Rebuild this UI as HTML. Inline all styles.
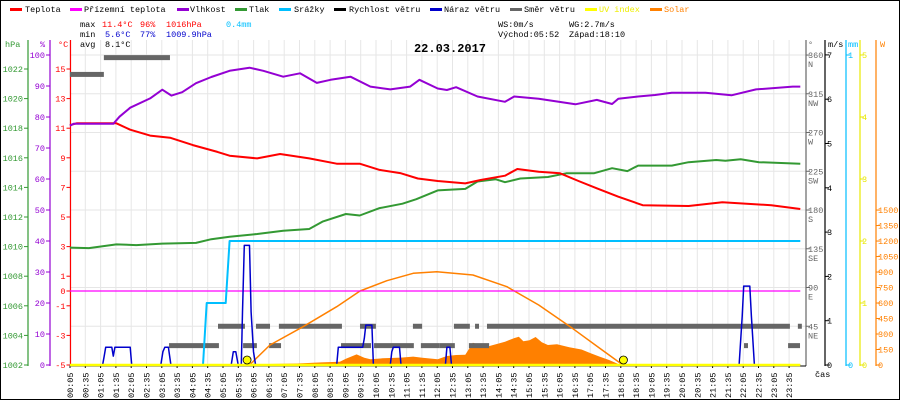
<!DOCTYPE html>
<html><head><meta charset="utf-8"><style>
html,body{margin:0;padding:0;background:#fff}
svg{display:block;font-family:"Liberation Mono",monospace}
</style></head><body>
<svg id="c" width="900" height="400" viewBox="0 0 900 400" xmlns="http://www.w3.org/2000/svg">
<rect x="0.5" y="0.5" width="899" height="399" fill="#fff" stroke="#000"/>
<g id="grid"></g>
<g id="legend" font-size="8.5">
<rect x="10" y="8" width="12" height="3" fill="#f00"/><text x="25" y="12">Teplota</text>
<rect x="70" y="8" width="12" height="3" fill="#f0f"/><text x="84" y="12">Přízemní teplota</text>
<rect x="177" y="8" width="12" height="3" fill="#9400d3"/><text x="190" y="12">Vlhkost</text>
<rect x="235" y="8" width="12" height="3" fill="#339933"/><text x="249" y="12">Tlak</text>
<rect x="279" y="8" width="12" height="3" fill="#00bfff"/><text x="294" y="12">Srážky</text>
<rect x="334" y="8" width="12" height="3" fill="#000"/><text x="349" y="12">Rychlost větru</text>
<rect x="430" y="8" width="12" height="3" fill="#0000cc"/><text x="444" y="12">Náraz větru</text>
<rect x="510" y="8" width="12" height="3" fill="#666"/><text x="524" y="12">Směr větru</text>
<rect x="585" y="8" width="12" height="3" fill="#ff0"/><text x="599" y="12" fill="#ee0">UV index</text>
<rect x="650" y="8" width="12" height="3" fill="#ff8000"/><text x="664" y="12" fill="#ff8000">Solar</text>
</g>
<g font-size="8.5">
<text x="80" y="27">max</text><text x="102" y="27" fill="#f00">11.4°C</text><text x="140" y="27" fill="#f00">96%</text><text x="166" y="27" fill="#f00">1016hPa</text><text x="226" y="27" fill="#00bfff">0.4mm</text>
<text x="80" y="37">min</text><text x="105" y="37" fill="#00c">5.6°C</text><text x="140" y="37" fill="#00c">77%</text><text x="166" y="37" fill="#00c">1009.9hPa</text>
<text x="80" y="47">avg</text><text x="105" y="47">8.1°C</text>
<text x="498" y="27">WS:0m/s</text><text x="569" y="27">WG:2.7m/s</text>
<text x="498" y="37">Východ:05:52</text><text x="569" y="37">Západ:18:10</text>
</g>
<text x="450" y="52" text-anchor="middle" font-size="12" font-weight="bold">22.03.2017</text>
<g id="axes" font-size="8.5"></g>
<g id="series"></g>
</svg>
<script>
// ---- data ----
const tT=[0.08,0.3,1.6,2.05,2.7,3.35,4.1,4.9,5.3,6.2,6.95,7.9,8.8,9.55,10.2,10.9,11.45,12.1,13.0,13.5,14.3,14.7,15.4,16.1,16.7,17.3,18.0,18.8,20.3,21.4,23.0,23.95];
const vT=[11.2,11.33,11.33,10.9,10.5,10.36,9.86,9.4,9.14,8.96,9.26,8.96,8.6,8.6,8.18,7.95,7.6,7.43,7.27,7.5,7.79,8.24,8.06,7.95,7.43,6.94,6.37,5.8,5.74,6.0,5.8,5.54];
const tH=[0.08,0.2,1.5,1.7,2.05,2.7,3.1,3.4,3.75,4.2,4.7,5.3,5.95,6.4,7.05,7.6,8.15,8.6,9.25,9.9,10.55,11.2,11.5,12.1,12.4,12.7,13.4,14.3,14.6,15.4,16.6,17.3,17.8,18.0,18.65,19.2,19.75,20.85,21.7,22.5,23.7,23.95];
const vH=[77.2,77.8,77.8,80.1,83,86,88.8,86.9,88,90.9,92.9,94.9,95.9,94.9,93,94.1,91,92,93,89.8,88.9,89.8,92,89.2,88.7,89.6,86.6,84.9,86.6,85.9,84.1,85.5,84.2,85.9,86.6,87.1,87.8,87.8,87,88.9,89.8,89.8];
const tP=[0.08,0.7,1.6,2.25,3.1,4.2,4.7,5.3,6.2,7.05,7.9,8.35,9.1,9.55,10.2,10.95,11.4,12.1,13.0,13.4,14.0,14.3,14.8,15.7,16.3,17.2,17.8,18.3,18.65,19.75,20.3,21.2,21.5,22.0,22.6,23.95];
const vP=[1009.93,1009.9,1010.15,1010.1,1010.2,1010.25,1010.5,1010.67,1010.85,1011.07,1011.19,1011.7,1012.2,1012.1,1012.6,1012.9,1013.2,1013.8,1013.9,1014.4,1014.55,1014.35,1014.6,1014.7,1014.95,1014.95,1015.3,1015.1,1015.47,1015.47,1015.7,1015.85,1015.8,1015.9,1015.7,1015.6];
const tGround=[0.08,23.95];
const vGround=[0,0];
const tR=[0.08,4.43,4.55,5.17,5.3,23.95];
const vR=[0,0,0.2,0.2,0.4,0.4];
const tG=[0.08,1.15,1.2,1.25,1.45,1.5,1.55,2.05,2.1,3.05,3.12,3.18,3.3,3.38,5.35,5.42,5.5,5.58,5.68,5.72,5.78,5.95,6.0,6.08,6.15,8.8,8.85,9.65,9.7,9.75,9.95,10.0,10.55,10.6,10.65,10.85,10.9,12.35,12.4,12.5,12.55,21.95,22.05,22.1,22.3,22.35,22.45,23.95];
const vG=[0,0,0.2,0.4,0.4,0.2,0.4,0.4,0,0,0.3,0.4,0.4,0,0,0.3,0.3,0,0,1.2,2.7,2.7,1.2,0.3,0,0,0.4,0.4,0.6,0.9,0.9,0,0,0.3,0.4,0.4,0,0,0.4,0.4,0,0,1.1,1.78,1.78,1.1,0,0];
const dirStart=[0.08,1.19,3.32,5.74,6.59,8.94,10.02,11.55,12.17,13.12,22.11,23.55,4.92,6.16,6.91,9.56,11.29,12.63,13.32,13.71,23.87];
const dirEnd=[1.19,3.35,4.95,6.19,6.98,9.92,11.32,12.17,12.66,13.78,22.24,23.94,5.8,6.62,8.97,10.08,11.59,13.15,13.45,23.61,24.0];
const dirDeg=[337.5,357,22.5,22.5,22.5,22.5,22.5,22.5,22.5,22.5,22.5,22.5,45,45,45,45,45,45,45,45,45];
const tS=[6.5,6.6,7.5,8.3,8.9,9.1,9.45,9.7,9.9,10.3,10.9,11.3,11.6,12.1,12.4,12.7,13.0,13.25,13.5,13.7,14.0,14.3,14.6,14.75,14.9,15.1,15.3,15.5,15.7,16.0,16.4,16.8,17.1,17.4,17.7,18.0,18.1];
const vS=[0,10,15,25,32,60,103,70,55,65,72,81,70,55,87,97,100,216,190,177,200,226,260,274,230,240,271,220,194,200,171,150,113,80,48,10,0];
const tC=[5.95,6.62,7.7,8.8,9.56,10.44,11.3,12.07,13.25,14.36,15.4,16.5,17.4,18.06,18.17];
const vC=[0,194,371,564,716,816,888,903,871,758,581,355,161,19,0];
const tUV=[0.08,23.95];
const vUV=[0,0];
const sunTimes=[5.87,18.17];
const tempTicks=[15,13,11,9,7,5,3,1,0,-1,-3,-5];
const humTicks=[0,10,20,30,40,50,60,70,80,90,100];
const presTicks=[1002,1004,1006,1008,1010,1012,1014,1016,1018,1020,1022];
const dirTicks=[45,90,135,180,225,270,315,360];
const dirNames=["NE","E","SE","S","SW","W","NW","N"];
const msTicks=[0,1,2,3,4,5,6,7];
const mmTicks=[0,1];
const uvTicks=[0,1,2,3,4,5];
const wTicks=[0,150,300,450,600,750,900,1050,1200,1350,1500];
const timeLabels=[];for(let h=0;h<24;h++){const hh=(h<10?'0':'')+h;timeLabels.push(hh+':05');timeLabels.push(hh+':35');}

// ---- scales ----
const X=t=>70+(t-1/12)*30.6;
const Y0=365;
const yT=v=>Y0-(v+5)*14.8;
const yH=v=>Y0-v*3.1;
const yP=v=>Y0-(v-1002)*14.8;
const yD=v=>Y0-v*0.861;
const yM=v=>Y0-v*44.3;
const yR=v=>Y0-v*310;
const yU=v=>Y0-v*62;
const yW=v=>Y0-v*0.1033;
const NS='http://www.w3.org/2000/svg';
function mk(tag,attrs,parent){const e=document.createElementNS(NS,tag);for(const k in attrs)e.setAttribute(k,attrs[k]);parent.appendChild(e);return e;}
const grid=document.getElementById('grid'),axes=document.getElementById('axes'),ser=document.getElementById('series');

// grid
timeLabels.forEach((lab,i)=>{const x=X(1/12+i*0.5);
 const l=mk('line',{x1:x,y1:40,x2:x,y2:365,stroke:'#e6e6e6'},grid);
 
 
 mk('line',{x1:x,y1:365,x2:x,y2:368,stroke:'#000'},axes);
 const t=mk('text',{x:0,y:0,transform:`translate(${x+3},398) rotate(-90)`,'font-size':'8.5'},axes);t.textContent=lab;
 
 
});
dirTicks.forEach(d=>{const y=yD(d);const l=mk('line',{x1:70,y1:y,x2:806,y2:y,stroke:'#e6e6e6'},grid);
 
 });

// axes helper
function axis(x,col,ticks,fy,side,hdr,hx,name,extra){
 const g=mk('g',{},axes);
 
 
 mk('line',{x1:x,y1:40,x2:x,y2:366,stroke:col,'stroke-width':1.2},g);
 if(hdr){const h=mk('text',{x:hx,y:47,fill:col},g);h.textContent=hdr;}
 ticks.forEach((v,i)=>{const y=fy(v);
  if(side<0){mk('line',{x1:x-4,y1:y,x2:x,y2:y,stroke:col},g);const t=mk('text',{x:x-5,y:y+3,fill:col,'text-anchor':'end'},g);t.textContent=v;}
  else{mk('line',{x1:x,y1:y,x2:x+4,y2:y,stroke:col},g);const t=mk('text',{x:x+2,y:y+3,fill:col},g);t.textContent=v;
   if(extra){const t2=mk('text',{x:x+2,y:y+12,fill:col},g);t2.textContent=extra[i];}}
 });
}
axis(28,'#339933',presTicks,yP,-1,'hPa',5,'pressure-axis');
axis(50,'#9400d3',humTicks,yH,-1,'%',40,'humidity-axis');
axis(70.5,'#f00',tempTicks,yT,-1,'°C',58,'temperature-axis');
axis(806,'#666',dirTicks,yD,1,'°',808,'direction-axis',dirNames);
axis(825,'#000',msTicks,yM,1,'m/s',828,'wind-speed-axis');
axis(846,'#00bfff',mmTicks,yR,1,'mm',848,'rain-axis');
axis(860,'#e8e800',uvTicks,yU,1,'',0,'uv-axis');
axis(876,'#ff8000',wTicks,yW,1,'W',880,'solar-axis');
mk('line',{x1:70,y1:366,x2:806,y2:366,stroke:'#000'},axes);
const cas=mk('text',{x:815,y:377},axes);cas.textContent='čas';

// series
function pts(ts,vs,fy){return ts.map((t,i)=>X(t).toFixed(1)+','+fy(vs[i]).toFixed(1)).join(' ');}
const sa=mk('polygon',{points:X(tS[0])+','+Y0+' '+pts(tS,vS,yW)+' '+X(tS[tS.length-1])+','+Y0,fill:'#ff8000'},ser);


dirDeg.forEach((d,i)=>{const r=mk('rect',{x:X(dirStart[i]),y:yD(d)-2.5,width:X(dirEnd[i])-X(dirStart[i]),height:5,fill:'#666'},ser);
 
 });
function line(ts,vs,fy,col,w,name){const p=mk('polyline',{points:pts(ts,vs,fy),fill:'none',stroke:col,'stroke-width':w,'stroke-linejoin':'round'},ser);
 
 }
line(tC,vC,yW,'#ff8000',1.5,'solar-theoretical-line');
line(tGround,vGround,yT,'#f0f',1.2,'ground-temp-line');
line(tR,vR,yR,'#00bfff',2,'rain-line');
line(tG,vG,yM,'#0000cc',1.5,'wind-gust-line');
line(tP,vP,yP,'#339933',2,'pressure-line');
line(tT,vT,yT,'#f00',2,'temperature-line');
line(tH,vH,yH,'#9400d3',2,'humidity-line');
line(tUV,vUV,yU,'#ffff00',2.5,'uv-line');
sunTimes.forEach(t=>{const c=mk('circle',{cx:X(t),cy:360,r:4,fill:'#ff0',stroke:'#000','stroke-width':0.8},ser);
 
 });
</script>
</body></html>
